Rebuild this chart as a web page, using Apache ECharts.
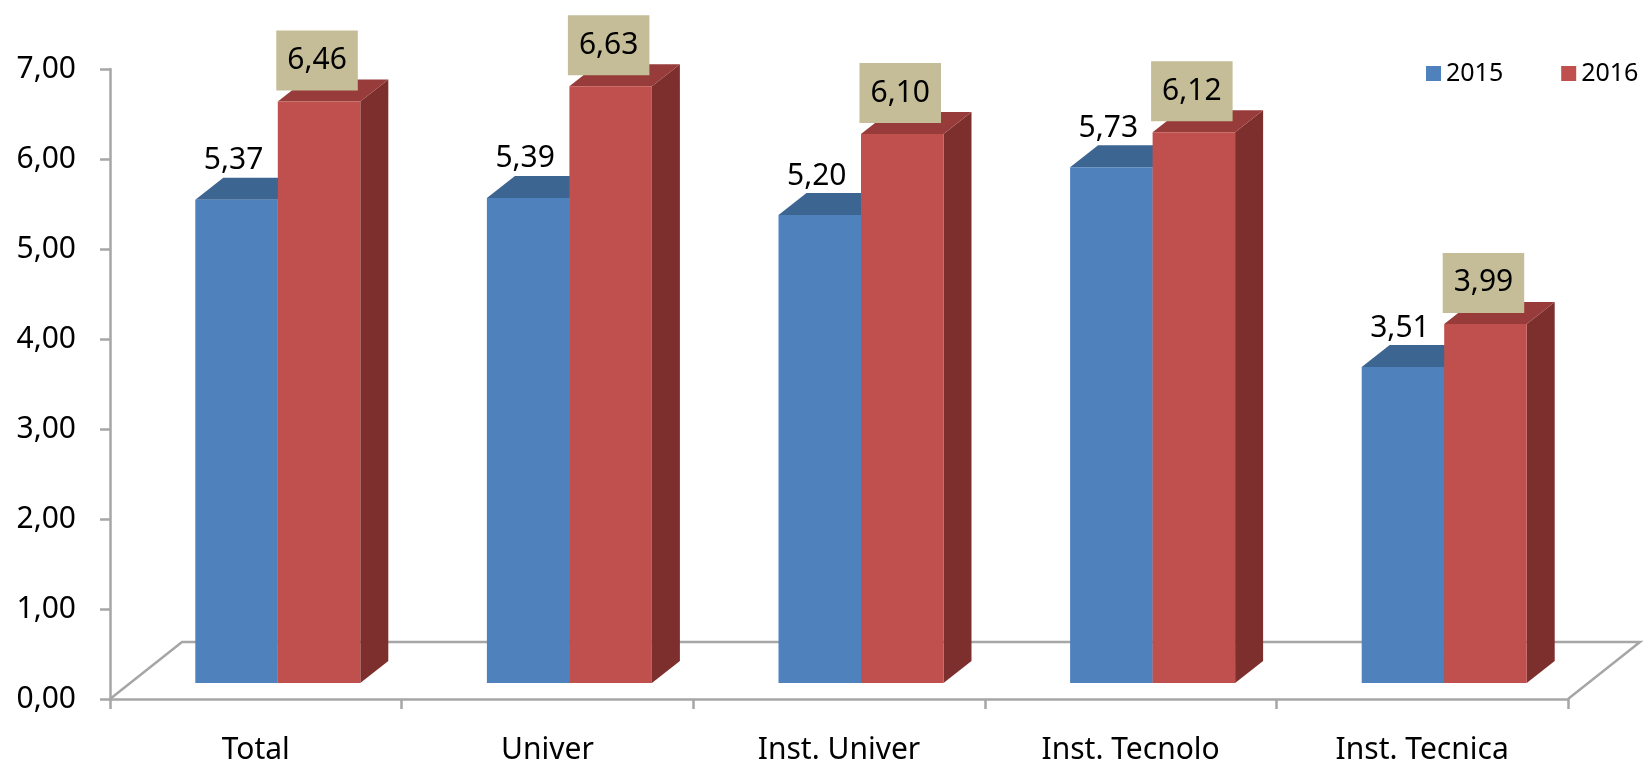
<!DOCTYPE html>
<html>
<head>
<meta charset="utf-8">
<script src="https://cdn.jsdelivr.net/npm/echarts@6/dist/echarts.min.js"></script>
<style>
    html, body { margin: 0; padding: 0; background: #fff; }
</style>
</head>
<body>
<div id="main" style="width: 1650px;height: 765px;"></div>
<script>
const categories = ['Total', 'Univer', 'Inst. Univer', 'Inst. Tecnolo', 'Inst. Tecnica']
const values2015 = [5.37, 5.39, 5.20, 5.73, 3.51]
const values2016 = [6.46, 6.63, 6.10, 6.12, 3.99]
const years = ['2015', '2016']

// fake 3d: bars sit a bit back on the floor
const BAR_W = 82.5
const SHIFT_X = 22, SHIFT_Y = -16
const DEPTH_X = 28, DEPTH_Y = -22
const FLOOR_X = 72, FLOOR_Y = -57
const FONT = '"Noto Sans", "Open Sans", sans-serif'
const GREY = '#A6A6A6'

const colors = [
    { front: '#4F81BD', top: '#3D6592', side: '#2F4F75' },
    { front: '#C0504D', top: '#973C3A', side: '#7D2F2D' }
]

function fmt(v) {
    return v.toFixed(2).replace('.', ',')
}

function renderFloor(params, api) {
    var cs = params.coordSys
    var x0 = cs.x, x1 = cs.x + cs.width, y = cs.y + cs.height
    return {
        type: 'polyline',
        shape: {
            points: [[x0, y], [x0 + FLOOR_X, y + FLOOR_Y], [x1 + FLOOR_X, y + FLOOR_Y], [x1, y]]
        },
        style: { stroke: GREY, lineWidth: 2.5, fill: null }
    }
}

function renderBar(params, api) {
    var s = params.seriesIndex - 1
    var idx = api.value(0)
    var val = api.value(1)
    var p = api.coord([idx, val])
    var b = api.coord([idx, 0])
    var x0 = p[0] + SHIFT_X - (s === 0 ? BAR_W : 0)
    var x1 = x0 + BAR_W
    var yt = p[1] + SHIFT_Y
    var yb = b[1] + SHIFT_Y
    var c = colors[s]
    var children = [
        {
            type: 'polygon',
            shape: { points: [[x1, yt], [x1 + DEPTH_X, yt + DEPTH_Y], [x1 + DEPTH_X, yb + DEPTH_Y], [x1, yb]] },
            style: { fill: c.side }
        },
        {
            type: 'polygon',
            shape: { points: [[x0, yt], [x0 + DEPTH_X, yt + DEPTH_Y], [x1 + DEPTH_X, yt + DEPTH_Y], [x1, yt]] },
            style: { fill: c.top }
        },
        {
            type: 'rect',
            shape: { x: x0, y: yt, width: BAR_W, height: yb - yt },
            style: { fill: c.front }
        }
    ]
    if (s === 0) {
        children.push({
            type: 'text',
            style: {
                text: fmt(val), x: (x0 + x1) / 2 - 3, y: yt - 39,
                align: 'center', verticalAlign: 'middle',
                font: '30px ' + FONT, fill: '#000'
            }
        })
    } else {
        children.push({
            type: 'text',
            style: {
                text: fmt(val), x: (x0 + x1) / 2 - 2, y: yt - 11,
                align: 'center', verticalAlign: 'bottom',
                font: '30px ' + FONT, fill: '#000', lineHeight: 34,
                backgroundColor: '#C4BD97', padding: [13, 11, 13, 11]
            }
        })
    }
    return { type: 'group', children: children }
}

var option = {
    animation: false,
    grid: { left: 110, right: 82, top: 69, bottom: 66 },
    legend: {
        data: years,
        left: 1421,
        top: 56,
        icon: 'rect',
        itemWidth: 15,
        itemHeight: 15,
        itemGap: 58,
        textStyle: { fontSize: 25, fontFamily: FONT, color: '#000' }
    },
    xAxis: {
        type: 'category',
        data: categories,
        axisLine: { show: true, lineStyle: { color: GREY, width: 2.5 } },
        axisTick: { show: true, length: 10, lineStyle: { color: GREY, width: 2.5 } },
        axisLabel: { margin: 36, fontSize: 30, fontFamily: FONT, color: '#000' }
    },
    yAxis: {
        type: 'value',
        min: 0,
        max: 7,
        interval: 1,
        splitLine: { show: false },
        axisLine: { show: true, lineStyle: { color: GREY, width: 2.5 } },
        axisTick: { show: true, length: 10, lineStyle: { color: GREY, width: 2.5 } },
        axisLabel: { margin: 34, fontSize: 30, fontFamily: FONT, color: '#000', formatter: fmt }
    },
    series: [
        {
            name: 'floor',
            type: 'custom',
            renderItem: renderFloor,
            data: [[0, 0]],
            z: 1,
            silent: true
        },
        {
            name: years[0],
            type: 'custom',
            renderItem: renderBar,
            itemStyle: { color: colors[0].front },
            encode: { x: 0, y: 1 },
            data: values2015.map((v, i) => [i, v]),
            z: 2
        },
        {
            name: years[1],
            type: 'custom',
            renderItem: renderBar,
            itemStyle: { color: colors[1].front },
            encode: { x: 0, y: 1 },
            data: values2016.map((v, i) => [i, v]),
            z: 3
        }
    ]
};

var chartDom = document.getElementById('main');
var myChart = echarts.init(chartDom);
option && myChart.setOption(option);
</script>
</body>
</html>
